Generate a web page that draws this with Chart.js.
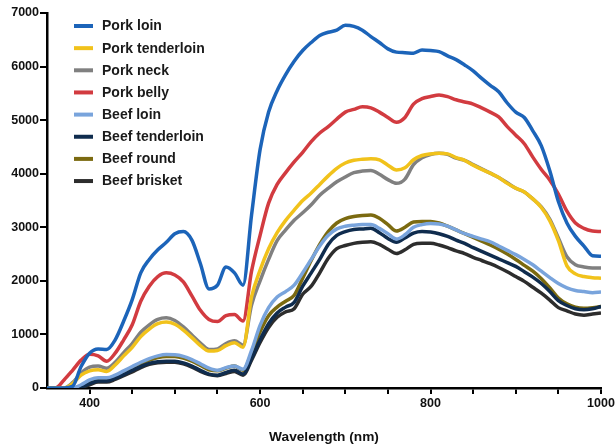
<!DOCTYPE html>
<html><head><meta charset="utf-8">
<script src="https://cdn.jsdelivr.net/npm/chart.js@4.4.0/dist/chart.umd.min.js"></script>
<style>html,body{margin:0;padding:0;background:#fff;}#wrap{width:615px;height:447px;}</style>
</head><body><div id="wrap"><canvas id="c" width="615" height="447"></canvas></div>
<script>
const wavelengths = [350,360,370,380,390,400,410,420,430,440,450,460,470,480,490,500,510,520,530,540,550,560,570,580,590,600,610,620,630,640,650,660,670,680,690,700,710,720,730,740,750,760,770,780,790,800,810,820,830,840,850,860,870,880,890,900,910,920,930,940,950,960,970,980,990,1000];

const porkLoin = [0,0,0,30,400,650,730,720,900,1250, 1650,2150,2400,2580,2720,2880,2920,2760,2320,1850, 1920,2260,2150,1920,3230,4450,5150,5550,5850,6100, 6300,6450,6580,6640,6680,6770,6750,6680,6560,6450, 6330,6270,6260,6250,6310,6300,6280,6200,6130,6030, 5920,5780,5650,5530,5320,5150,5050,4800,4520,4050, 3480,3080,2830,2650,2470,2460];
const porkTenderloin = [0,0,0,80,240,320,340,310,430,600, 760,960,1100,1200,1230,1190,1080,940,790,690, 700,790,845,760,1700,2200,2600,2900,3130,3320, 3500,3640,3800,3960,4100,4200,4250,4270,4280,4260, 4160,4070,4110,4260,4340,4370,4380,4370,4300,4250, 4160,4080,4010,3930,3820,3730,3660,3530,3370,3120, 2750,2280,2130,2080,2060,2050];
const porkNeck = [0,0,0,100,280,390,410,370,480,660, 830,1040,1180,1280,1310,1260,1140,990,840,720, 730,830,880,800,1550,2000,2400,2750,2950,3130, 3270,3420,3600,3730,3850,3940,4020,4050,4060,3990, 3890,3820,3900,4170,4300,4360,4380,4360,4290,4250, 4170,4090,4010,3930,3830,3730,3660,3530,3380,3150, 2800,2450,2300,2260,2240,2240];
const porkBelly = [0,0,150,330,520,630,600,500,650,900, 1180,1620,1900,2080,2150,2110,1980,1720,1450,1280, 1240,1350,1370,1250,2180,2850,3450,3800,4020,4220, 4400,4600,4760,4880,5020,5150,5200,5250,5230,5150, 5050,4960,5050,5300,5400,5440,5470,5440,5380,5340, 5300,5230,5150,5060,4880,4720,4560,4310,4080,3880, 3620,3300,3080,2980,2930,2920];
const beefLoin = [0,0,0,0,60,150,190,190,240,320, 400,480,550,600,625,620,590,530,450,370, 330,380,410,350,700,1170,1500,1700,1800,1920, 2150,2400,2650,2850,2970,3020,3040,3050,3050,2980, 2880,2780,2860,3000,3050,3070,3060,3020,2950,2880, 2830,2780,2730,2650,2570,2490,2400,2300,2180,2060, 1950,1870,1820,1800,1780,1790];
const beefTenderloin = [0,0,0,0,20,80,130,130,180,250, 330,400,460,490,500,500,470,410,330,260, 240,290,330,260,550,900,1200,1400,1510,1600, 1900,2150,2400,2680,2850,2920,2960,2970,2980,2900, 2790,2720,2800,2890,2920,2910,2880,2830,2760,2700, 2620,2550,2480,2410,2340,2270,2170,2070,1950,1800, 1630,1540,1480,1460,1480,1520];
const beefRound = [0,0,0,0,40,120,170,170,220,290, 370,450,520,570,590,590,560,500,420,340, 320,370,410,330,650,1050,1350,1510,1620,1730, 2050,2380,2680,2920,3080,3160,3200,3220,3230,3170, 3050,2930,3000,3100,3110,3110,3080,3020,2950,2880, 2810,2740,2670,2590,2500,2400,2290,2180,2040,1870, 1680,1570,1510,1490,1500,1520];
const beefBrisket = [0,0,0,0,10,60,110,110,160,230, 300,380,440,470,480,480,450,390,310,250, 230,270,310,240,520,850,1130,1320,1420,1480, 1750,1900,2150,2420,2600,2660,2700,2720,2730,2680, 2590,2510,2580,2680,2700,2700,2670,2620,2560,2510, 2440,2380,2320,2250,2170,2080,1990,1880,1770,1640, 1500,1440,1380,1360,1380,1400];

const seriesNames = ['Pork loin','Pork tenderloin','Pork neck','Pork belly','Beef loin','Beef tenderloin','Beef round','Beef brisket'];
const seriesValues = [porkLoin, porkTenderloin, porkNeck, porkBelly, beefLoin, beefTenderloin, beefRound, beefBrisket];
const xTickLabels = [400, 600, 800, 1000];
const yTicks = [0,1000,2000,3000,4000,5000,6000,7000];

const seriesColors = ['#1c64b9','#f1c21b','#808080','#d23b40','#79a4dc','#0f2c4e','#7b6a10','#2d2d2d'];
const FONT = '"Liberation Sans", Arial, sans-serif';

const datasets = seriesNames.map((name, i) => ({
  label: name,
  data: wavelengths.map((w, j) => ({x: w, y: seriesValues[i][j]})),
  borderColor: seriesColors[i],
  backgroundColor: seriesColors[i],
  borderWidth: 3.5,
  pointRadius: 0,
  fill: false,
  cubicInterpolationMode: 'monotone'
}));

const legendPlugin = {
  id: 'innerLegend',
  afterDraw(chart) {
    const ctx = chart.ctx;
    const a = chart.chartArea;
    ctx.save();
    ctx.font = 'bold 14px ' + FONT;
    ctx.textBaseline = 'middle';
    chart.data.datasets.forEach((ds, i) => {
      const y = a.top + 13 + i * 22.15;
      ctx.strokeStyle = ds.borderColor;
      ctx.lineWidth = 4;
      ctx.beginPath();
      ctx.moveTo(a.left + 27, y);
      ctx.lineTo(a.left + 46, y);
      ctx.stroke();
      ctx.fillStyle = '#1a1a1a';
      ctx.fillText(ds.label, a.left + 55, y + 0.5);
    });
    ctx.restore();
  }
};

new Chart(document.getElementById('c'), {
  type: 'line',
  data: { datasets },
  plugins: [legendPlugin],
  options: {
    responsive: false,
    animation: false,
    devicePixelRatio: 1,
    layout: { padding: { top: 13, right: 14, bottom: 0, left: 0 } },
    plugins: { legend: { display: false }, tooltip: { enabled: false } },
    scales: {
      x: {
        type: 'linear', min: 350, max: 1000,
        ticks: {
          stepSize: 50, autoSkip: false, maxRotation: 0, padding: 2,
          color: '#111', font: { family: FONT, weight: 'bold', size: 12.5 },
          callback: v => v === 350 ? null : (xTickLabels.includes(v) ? String(v) : '')
        },
        grid: { drawOnChartArea: false, drawTicks: true, tickLength: 6, color: '#000', lineWidth: 2 },
        border: { display: true, color: '#000', width: 2.5 },
        title: { display: true, text: 'Wavelength (nm)', color: '#111',
                 font: { family: FONT, weight: 'bold', size: 13.7 }, padding: { top: 4, bottom: 2 } },
        afterFit: s => { s.height = 59; s.paddingLeft = 0; s.paddingRight = 0; }
      },
      y: {
        min: 0, max: 7000,
        afterBuildTicks: s => { s.ticks = yTicks.map(v => ({ value: v })); },
        ticks: { padding: 1, color: '#111', font: { family: FONT, weight: 'bold', size: 12.5 },
                 callback: v => String(v) },
        grid: { drawOnChartArea: false, drawTicks: true, tickLength: 7, color: '#000', lineWidth: 2 },
        border: { display: true, color: '#000', width: 2.5 },
        afterFit: s => { s.width = 47; s.paddingTop = 0; s.paddingBottom = 0; }
      }
    }
  }
});
</script></body></html>
